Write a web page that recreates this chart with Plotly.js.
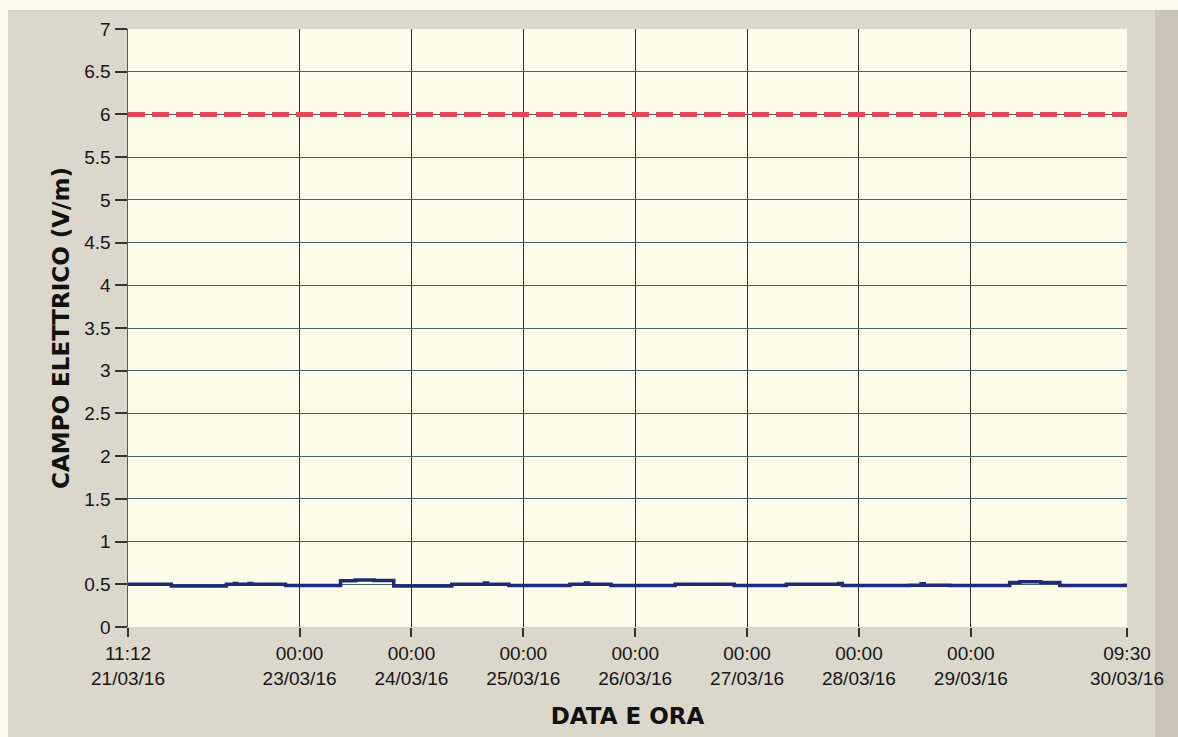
<!DOCTYPE html>
<html>
<head>
<meta charset="utf-8">
<script src="https://cdn.plot.ly/plotly-3.0.1.min.js"></script>
<style>
html,body{margin:0;padding:0;background:#fdf9ee;}
#chart{width:1178px;height:737px;}
</style>
</head>
<body>
<div id="chart"></div>
<script>
// Measured electric field (V/m) over time
const times = [
  "2016-03-21 11:12","2016-03-21 20:30","2016-03-22 08:18","2016-03-22 10:00","2016-03-22 10:30",
  "2016-03-22 13:10","2016-03-22 13:45","2016-03-22 21:00","2016-03-23 08:48","2016-03-23 12:00",
  "2016-03-23 16:00","2016-03-23 20:12","2016-03-24 08:40","2016-03-24 15:40","2016-03-24 16:20",
  "2016-03-24 20:54","2016-03-25 10:00","2016-03-25 13:20","2016-03-25 14:00","2016-03-25 18:49",
  "2016-03-26 08:34","2016-03-26 21:14","2016-03-27 08:25","2016-03-27 19:40","2016-03-27 20:27",
  "2016-03-28 10:51","2016-03-28 13:20","2016-03-28 14:00","2016-03-28 19:26","2016-03-29 08:20",
  "2016-03-29 10:30","2016-03-29 15:00","2016-03-29 19:05","2016-03-30 09:00","2016-03-30 09:30"
];
const values = [
  0.50,0.48,0.50,0.51,0.50,
  0.51,0.50,0.485,0.54,0.55,
  0.545,0.48,0.50,0.515,0.50,
  0.485,0.50,0.515,0.50,0.485,
  0.50,0.485,0.50,0.51,0.485,
  0.49,0.505,0.49,0.485,0.52,
  0.53,0.52,0.485,0.49,0.49
];
const limitValue = 6;
const limitTimes = ["2016-03-21 11:12","2016-03-30 09:30"];
const tickVals = ["2016-03-21 11:12","2016-03-23 00:00","2016-03-24 00:00","2016-03-25 00:00","2016-03-26 00:00",
  "2016-03-27 00:00","2016-03-28 00:00","2016-03-29 00:00","2016-03-30 09:30"];
const tickText = ["11:12<br>21/03/16","00:00<br>23/03/16","00:00<br>24/03/16","00:00<br>25/03/16","00:00<br>26/03/16",
  "00:00<br>27/03/16","00:00<br>28/03/16","00:00<br>29/03/16","09:30<br>30/03/16"];
const yTickVals = [0,0.5,1,1.5,2,2.5,3,3.5,4,4.5,5,5.5,6,6.5,7];
const yTickText = ["0","0.5","1","1.5","2","2.5","3","3.5","4","4.5","5","5.5","6","6.5","7"];

const W = 999, H = 598; // plot area px for paper-ref conversions
const traces = [
  {
    x: limitTimes, y: limitTimes.map(() => limitValue), type: 'scatter', mode: 'lines',
    line: {color: '#e2495b', width: 5, dash: '17px,7px'}, hoverinfo: 'skip', showlegend: false
  },
  {
    x: times, y: values, type: 'scatter', mode: 'lines',
    line: {color: '#1c2a78', width: 3.5, shape: 'hv'}, showlegend: false
  }
];

const layout = {
  width: 1178, height: 737,
  margin: {l: 128, r: 51, t: 29, b: 110, pad: 0},
  paper_bgcolor: '#dcd7cb',
  plot_bgcolor: '#fffbea',
  font: {family: 'Liberation Sans, Arial, sans-serif', color: '#1a1a1a', size: 20},
  showlegend: false,
  xaxis: {
    type: 'date',
    range: [limitTimes[0], limitTimes[1]],
    tickmode: 'array', tickvals: tickVals, ticktext: tickText,
    showgrid: true, gridcolor: '#2f3535', gridwidth: 1,
    ticks: 'outside', ticklen: 9, tickwidth: 2, tickcolor: '#333',
    showline: false, zeroline: false,
    tickfont: {size: 19, color: '#161616'},
    title: {text: 'DATA E ORA', font: {family: 'DejaVu Sans, sans-serif', size: 23, color: '#111', weight: 'bold'}, standoff: 20}
  },
  yaxis: {
    range: [0, 7],
    tickmode: 'array', tickvals: yTickVals, ticktext: yTickText,
    showgrid: true, gridcolor: '#3e6666', gridwidth: 1,
    ticks: 'outside', ticklen: 12, tickwidth: 2, tickcolor: '#333',
    showline: true, linecolor: '#7a4a4a', linewidth: 1.5,
    zeroline: false,
    tickfont: {size: 19, color: '#161616'},
    title: {text: 'CAMPO ELETTRICO (V/m)', font: {family: 'DejaVu Sans, sans-serif', size: 23, color: '#111', weight: 'bold'}, standoff: 8}
  },
  shapes: [
    // cream outer strips (left & top)
    {type: 'rect', xref: 'paper', yref: 'paper', x0: -128/W, x1: -120/W, y0: -110/H, y1: 1 + 29/H, fillcolor: '#fdf9ee', line: {width: 0}, layer: 'below'},
    {type: 'rect', xref: 'paper', yref: 'paper', x0: -128/W, x1: 1 + 51/W, y0: 1 + 19/H, y1: 1 + 29/H, fillcolor: '#fdf9ee', line: {width: 0}, layer: 'below'},
    // darker right strip
    {type: 'rect', xref: 'paper', yref: 'paper', x0: 1 + 28/W, x1: 1 + 51/W, y0: -110/H, y1: 1 + 19/H, fillcolor: '#cbc4b8', line: {width: 0}, layer: 'below'}
  ]
};

Plotly.newPlot('chart', traces, layout, {displayModeBar: false, staticPlot: true});
</script>
</body>
</html>
